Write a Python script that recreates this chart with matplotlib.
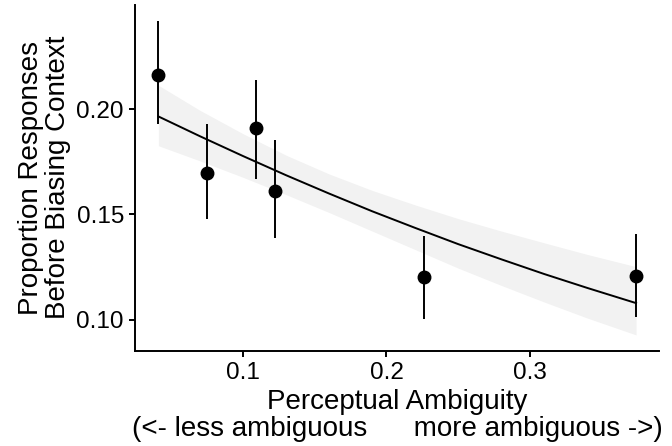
import matplotlib
matplotlib.use("Agg")
import matplotlib.pyplot as plt
import numpy as np

plt.rcParams['font.family'] = ['Liberation Sans', 'DejaVu Sans']

# observed points with error bars
ambiguity = [0.041, 0.0751, 0.109, 0.1225, 0.2259, 0.3739]
prop = [0.2162, 0.1696, 0.1911, 0.1610, 0.1201, 0.1209]
err_hi = [0.2418, 0.1927, 0.2139, 0.1851, 0.1396, 0.1406]
err_lo = [0.1930, 0.1478, 0.1669, 0.1390, 0.1005, 0.1011]

# fitted curve and confidence band
fit_x = [0.041, 0.07, 0.10, 0.13, 0.16, 0.19, 0.22, 0.25, 0.28, 0.31, 0.34, 0.374]
fit_y = [0.1965, 0.1871, 0.1777, 0.1686, 0.1599, 0.1515, 0.1436, 0.1359,
         0.1287, 0.1217, 0.1151, 0.1079]
band_hi = [0.2113, 0.1994, 0.1883, 0.1781, 0.1692, 0.1614, 0.1545, 0.1480,
           0.1421, 0.1365, 0.1310, 0.1252]
band_lo = [0.1826, 0.1754, 0.1676, 0.1594, 0.1509, 0.1421, 0.1333, 0.1245,
           0.1163, 0.1084, 0.1008, 0.0928]

fig = plt.figure(figsize=(6.72, 4.46), dpi=100)
ax = fig.add_axes([0.2009, 0.2141, 0.7798, 0.7747])

ax.fill_between(fit_x, band_lo, band_hi, color='#f2f2f2', linewidth=0, zorder=1)
ax.plot(fit_x, fit_y, color='black', linewidth=1.4, zorder=2)

y = np.array(prop)
yerr = [y - np.array(err_lo), np.array(err_hi) - y]
ax.errorbar(ambiguity, prop, yerr=yerr, fmt='o', color='black', ms=9,
            elinewidth=1.4, capsize=0, zorder=3)

ax.set_xlim(0.0247, 0.390)
ax.set_ylim(0.0854, 0.2494)
ax.set_xticks([0.1, 0.2, 0.3])
ax.set_xticklabels(['0.1', '0.2', '0.3'])
ax.set_yticks([0.10, 0.15, 0.20])
ax.set_yticklabels(['0.10', '0.15', '0.20'])

for s in ['top', 'right']:
    ax.spines[s].set_visible(False)
for s in ['left', 'bottom']:
    ax.spines[s].set_linewidth(1.4)
ax.tick_params(labelsize=17.5, length=4, width=1.4, colors='black', pad=4)

ax.set_xlabel('Perceptual Ambiguity\n(<- less ambiguous      more ambiguous ->)',
              fontsize=20, linespacing=1.05, labelpad=4)
ax.set_ylabel('Proportion Responses\nBefore Biasing Context',
              fontsize=20, linespacing=1.05, labelpad=4)

fig.savefig('out.png', dpi=100)
